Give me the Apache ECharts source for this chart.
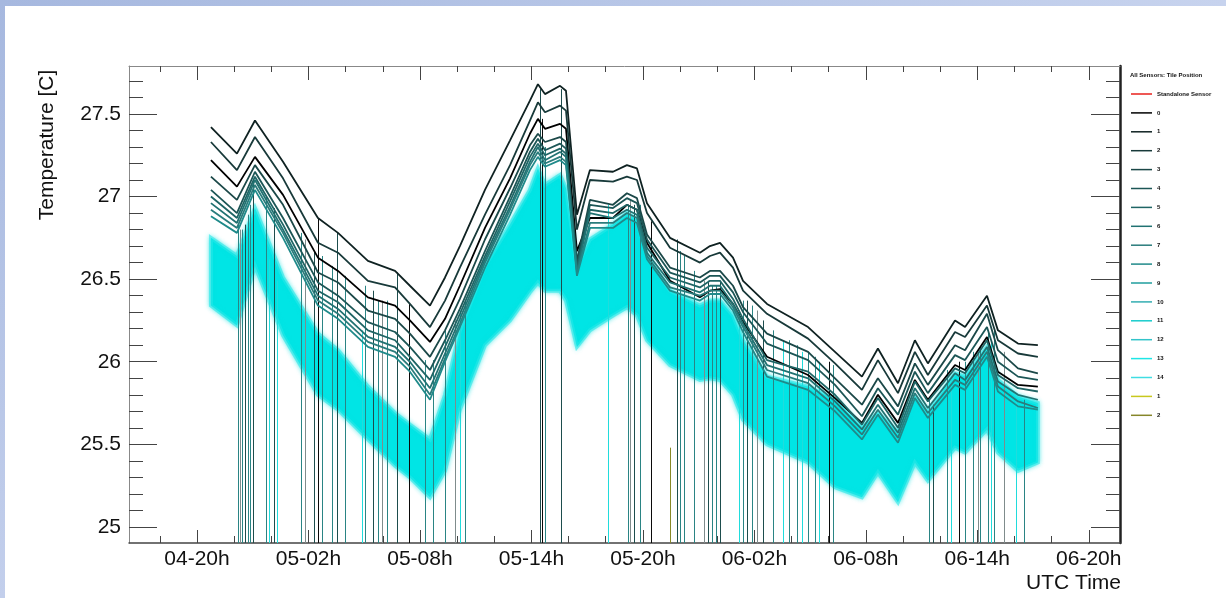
<!DOCTYPE html>
<html><head><meta charset="utf-8">
<script src="https://cdn.jsdelivr.net/npm/echarts@6/dist/echarts.min.js"></script>
<style>html,body{margin:0;padding:0;background:#fff}#c{width:1226px;height:598px}</style>
</head><body><div id="c"></div><script>
// ---- time grid (hours since day 04 00h) ----
const hours = [20.75,22.15,23.12,24.63,26.51,27.59,29.20,30.66,31.46,32.54,33.35,34.15,35.50,36.85,37.92,38.35,38.73,39.54,39.86,40.45,41.15,42.39,43.14,43.68,44.22,45.46,47.07,47.61,48.15,48.85,49.39,50.68,52.89,54.34,55.79,56.65,57.73,58.64,59.34,60.80,61.34,62.52,63.11,64.19,65.26];
// ---- sensor temperatures [C] ----
const sensor0 = [27.22,27.06,27.24,27.01,26.63,26.55,26.39,26.34,26.25,26.12,26.26,26.46,26.81,27.11,27.38,27.47,27.41,27.44,27.41,26.67,26.87,26.87,26.95,26.92,26.72,26.49,26.39,26.43,26.44,26.35,26.24,26.03,25.92,25.78,25.63,25.80,25.63,25.89,25.77,25.98,25.95,26.15,25.94,25.86,25.85];
const sensor1 = [27.42,27.26,27.46,27.21,26.87,26.78,26.61,26.55,26.46,26.34,26.51,26.70,27.04,27.34,27.58,27.68,27.62,27.67,27.64,26.89,27.16,27.15,27.19,27.17,26.96,26.75,26.66,26.70,26.72,26.63,26.49,26.35,26.21,26.06,25.91,26.08,25.87,26.13,25.99,26.25,26.21,26.40,26.19,26.11,26.10];
const sensor2 = [27.33,27.16,27.36,27.11,26.72,26.66,26.49,26.45,26.35,26.21,26.37,26.57,26.89,27.19,27.46,27.57,27.51,27.55,27.52,26.80,27.10,27.09,27.12,27.10,26.90,26.69,26.60,26.64,26.66,26.57,26.43,26.29,26.14,25.99,25.83,26.01,25.81,26.06,25.92,26.18,26.15,26.34,26.13,26.05,26.03];
const sensor3 = [27.12,26.98,27.19,26.95,26.54,26.48,26.31,26.26,26.17,26.03,26.19,26.38,26.74,27.05,27.31,27.38,27.33,27.36,27.33,26.61,26.98,26.95,27.02,26.99,26.77,26.57,26.51,26.55,26.55,26.46,26.33,26.17,26.06,25.90,25.74,25.90,25.73,25.99,25.86,26.10,26.07,26.29,26.07,25.96,25.93];
const sensor4 = [27.04,26.90,27.15,26.87,26.48,26.40,26.24,26.18,26.09,25.95,26.13,26.32,26.67,27.00,27.27,27.35,27.28,27.32,27.29,26.58,26.95,26.93,26.99,26.96,26.74,26.54,26.48,26.52,26.52,26.42,26.30,26.11,26.01,25.86,25.67,25.84,25.68,25.94,25.81,26.04,26.01,26.21,26.00,25.91,25.89];
const sensor5 = [27.00,26.87,27.12,26.83,26.43,26.36,26.19,26.13,26.03,25.89,26.09,26.29,26.64,26.97,27.24,27.32,27.25,27.29,27.26,26.57,26.92,26.90,26.95,26.92,26.69,26.51,26.45,26.49,26.49,26.38,26.26,26.01,25.94,25.80,25.62,25.78,25.60,25.88,25.76,25.96,25.93,26.13,25.92,25.84,25.82];
const sensor6 = [26.96,26.84,27.10,26.80,26.40,26.32,26.15,26.09,26.00,25.84,26.05,26.26,26.62,26.94,27.21,27.30,27.22,27.27,27.24,26.55,26.90,26.87,26.92,26.89,26.66,26.48,26.42,26.46,26.46,26.35,26.23,25.98,25.90,25.76,25.59,25.74,25.57,25.84,25.72,25.93,25.89,26.09,25.88,25.80,25.77];
const sensor7 = [26.92,26.81,27.07,26.78,26.37,26.29,26.12,26.06,25.97,25.80,26.02,26.23,26.60,26.92,27.19,27.27,27.20,27.24,27.21,26.54,26.84,26.84,26.90,26.87,26.64,26.45,26.40,26.43,26.43,26.33,26.21,25.95,25.87,25.73,25.56,25.71,25.54,25.81,25.69,25.89,25.86,26.06,25.85,25.76,25.72];
const sensor8 = [26.88,26.78,27.04,26.75,26.34,26.26,26.09,26.03,25.94,25.77,26.00,26.21,26.57,26.89,27.16,27.24,27.18,27.22,27.19,26.52,26.81,26.81,26.87,26.84,26.62,26.43,26.37,26.41,26.41,26.31,26.18,25.91,25.83,25.70,25.53,25.68,25.51,25.78,25.66,25.86,25.83,26.03,25.82,25.73,25.71];
// noisy cyan sensors (10-14): band upper / lower envelope
const cyanUpper = [26.75,26.64,26.93,26.51,26.17,26.07,25.85,25.69,25.62,25.53,25.80,26.19,26.58,26.83,27.04,27.17,27.07,27.13,27.05,26.58,26.74,26.83,26.90,26.86,26.64,26.43,26.34,26.37,26.37,26.28,26.13,25.91,25.85,25.77,25.60,25.69,25.57,25.79,25.69,25.93,25.91,26.09,25.89,25.79,25.75];
const cyanLower = [26.34,26.22,26.58,26.16,25.80,25.71,25.53,25.37,25.30,25.18,25.34,25.71,26.10,26.25,26.42,26.48,26.43,26.43,26.37,26.09,26.19,26.28,26.33,26.28,26.13,25.98,25.89,25.90,25.89,25.80,25.65,25.50,25.39,25.24,25.18,25.33,25.15,25.39,25.28,25.48,25.45,25.59,25.45,25.34,25.39];
// read-out drop-outs: [hour, temperature where the drop starts, colour index]
const dropouts = [[22.21,26.83,2],[22.31,26.80,3],[22.42,26.80,2],[22.58,26.83,1],[22.74,26.89,2],[22.85,26.95,2],[23.01,27.10,1],[23.71,27.00,2],[23.88,26.62,4],[24.14,26.93,1],[24.31,26.49,4],[25.60,26.78,2],[25.81,26.74,3],[26.30,26.67,1],[26.51,26.87,0],[26.73,26.64,2],[27.27,26.58,2],[27.54,26.78,1],[27.97,26.52,2],[28.88,26.19,4],[29.04,26.46,2],[29.47,26.43,1],[29.74,26.37,2],[29.96,26.37,3],[30.23,26.37,2],[30.76,26.54,1],[31.41,26.35,0],[32.27,26.01,2],[32.70,26.01,2],[33.35,26.19,2],[33.89,26.25,3],[34.15,26.31,4],[34.42,26.37,2],[38.46,27.65,1],[38.57,27.47,0],[38.73,27.30,2],[39.59,27.65,1],[42.12,26.95,4],[43.20,26.95,2],[43.30,26.98,3],[43.52,26.95,1],[43.84,26.95,2],[44.43,26.85,0],[45.46,25.48,5],[45.83,26.74,1],[46.00,26.67,2],[46.21,26.64,2],[46.75,26.55,2],[47.29,26.49,3],[47.50,26.49,1],[47.72,26.46,2],[47.93,26.46,2],[48.15,26.49,1],[49.17,26.31,4],[49.39,26.37,2],[49.60,26.37,1],[49.87,26.34,2],[50.14,26.31,3],[50.46,26.25,1],[51.00,26.19,2],[51.54,26.13,4],[51.86,26.13,2],[52.29,26.10,2],[52.56,26.06,4],[52.89,26.06,2],[53.26,26.03,2],[53.48,26.00,4],[54.02,26.00,0],[54.23,25.98,2],[59.40,25.77,2],[59.61,25.74,1],[60.37,25.95,2],[60.58,25.89,4],[61.01,26.00,0],[61.34,26.00,2],[61.77,26.06,2],[62.03,26.06,3],[62.14,26.09,2],[62.57,26.19,2],[62.73,26.13,4],[62.90,26.19,2],[63.43,26.06,3],[64.08,25.77,4],[64.51,25.77,2]];
// ---- axes ----
const xTickValues = [20,26,32,38,44,50,56,62,68];
const xTickLabels = ['04-20h','05-02h','05-08h','05-14h','05-20h','06-02h','06-08h','06-14h','06-20h'];
const xMinorValues = [18,22,24,28,30,34,36,40,42,46,48,52,54,58,60,64,66];
const yTickValues = [25,25.5,26,26.5,27,27.5];
const yTickLabels = ['25','25.5','26','26.5','27','27.5'];
const yMinorValues = [25.1,25.2,25.3,25.4,25.6,25.7,25.8,25.9,26.1,26.2,26.3,26.4,26.6,26.7,26.8,26.9,27.1,27.2,27.3,27.4,27.6,27.7];
const xMin = 16.34, xMax = 69.68, yMin = 24.903, yMax = 27.79;

const legendNames = ['Standalone Sensor','0','1','2','3','4','5','6','7','8','9','10','11','12','13','14','1 ','2 '];
const legendColors = ['#e8201c','#000000','#0f2222','#183a3a','#1b4848','#1c5656','#1f6565','#217272','#2a7c7c','#1f8a8a','#1f9e9e','#33aeb2','#18cccc','#33c4ca','#1ee6e6','#40dde3','#c8c81e','#86862a'];
const lineData = {'0':sensor0,'1':sensor1,'2':sensor2,'3':sensor3,'4':sensor4,'5':sensor5,'6':sensor6,'7':sensor7,'8':sensor8};
const spikeColors = ['#0a0a0a','#1d4d4d','#2a8484','#7f8c8c','#20dcdc','#8a8a28'];

const font = 'Liberation Sans, Arial, Helvetica, sans-serif';
const chart = echarts.init(document.getElementById('c'), null, {renderer:'canvas'});

function xAxisDef(pos, values, len, labels, line){
  return {type:'value', min:xMin, max:xMax, position:pos,
    axisLine:{show:line!=null, lineStyle:line||{}},
    axisTick:{show:true, inside:true, length:len, customValues:values, lineStyle:{color:'#444', width:1}},
    axisLabel:labels?{show:true, customValues:values, margin:6, fontSize:21, color:'#111', fontFamily:font,
      formatter:v=>{const i=xTickValues.indexOf(Math.round(v)); return i>=0?xTickLabels[i]:'';}}:{show:false},
    splitLine:{show:false}};
}
function yAxisDef(pos, values, len, labels, line){
  return {type:'value', min:yMin, max:yMax, position:pos,
    axisLine:{show:line!=null, lineStyle:line||{}},
    axisTick:{show:true, inside:true, length:len, customValues:values, lineStyle:{color:'#444', width:1}},
    axisLabel:labels?{show:true, customValues:values, margin:8, fontSize:21, color:'#111', fontFamily:font,
      formatter:v=>{const i=yTickValues.findIndex(t=>Math.abs(t-v)<1e-6); return i>=0?yTickLabels[i]:'';}}:{show:false},
    splitLine:{show:false}};
}

const series = [];
// cyan noisy band
series.push({name:'13', type:'custom', z:2, silent:true, animation:false,
  itemStyle:{color:'#1ee6e6'},
  data: hours.map((h,i)=>[h, cyanUpper[i], cyanLower[i]]),
  renderItem:(params, api)=>{
    if(params.dataIndex!==0) return null;
    const up = hours.map((h,i)=>api.coord([h, cyanUpper[i]]));
    const lo = hours.map((h,i)=>api.coord([h, cyanLower[i]])).reverse();
    return {type:'polygon', shape:{points:up.concat(lo)},
      style:{fill:'#00e5e5', stroke:'rgba(40,232,232,0.6)', lineWidth:4, shadowBlur:5, shadowColor:'rgba(0,225,225,0.7)'}};
  }});
// drop-outs
series.push({name:'dropouts', type:'custom', z:3, silent:true, animation:false, clip:true,
  data: dropouts,
  renderItem:(params, api)=>{
    const p1 = api.coord([api.value(0), api.value(1)]);
    const p2 = api.coord([api.value(0), yMin]);
    const x = Math.round(p1[0])+0.5;
    return {type:'line', shape:{x1:x,y1:p1[1],x2:x,y2:p2[1]}, style:{stroke:spikeColors[api.value(2)], lineWidth:1}};
  }});
legendNames.forEach((n,i)=>{
  if(n==='13') return;
  const d = lineData[n];
  series.push({name:n, type:'line', z:4, animation:false, showSymbol:false, symbol:'none',
    color:legendColors[i], lineStyle:{width:1.8, color:legendColors[i]},
    data: d ? hours.map((h,k)=>[h, d[k]]) : []});
});

chart.setOption({
  backgroundColor:'#ffffff',
  animation:false,
  grid:{left:129, right:106, top:66, bottom:55, containLabel:false},
  xAxis:[
    xAxisDef('bottom', xTickValues, 13, true, {color:'#444', width:1.5}),
    xAxisDef('bottom', xMinorValues, 7, false, null),
    xAxisDef('top', xTickValues, 14, false, {color:'#888', width:1}),
    xAxisDef('top', xMinorValues, 6, false, null)
  ],
  yAxis:[
    yAxisDef('left', yTickValues, 28, true, {color:'#888', width:1}),
    yAxisDef('left', yMinorValues, 14, false, null),
    yAxisDef('right', yTickValues, 29, false, {color:'#222', width:2.5}),
    yAxisDef('right', yMinorValues, 14, false, null)
  ],
  legend:{orient:'vertical', left:1131, top:90, padding:0, icon:'rect', itemWidth:21, itemHeight:1.5, itemGap:10.9,
    data:legendNames.map((n,i)=>({name:n, itemStyle:{color:legendColors[i]}})),
    textStyle:{fontSize:6, fontWeight:'bold', color:'#111', fontFamily:font, lineHeight:8},
    selectedMode:false},
  graphic:[
    {type:'rect', z:-10, shape:{x:0,y:0,width:1226,height:6}, style:{fill:new echarts.graphic.LinearGradient(0,0,1,0,[{offset:0,color:'#a6b8df'},{offset:1,color:'#c7d3ee'}])}},
    {type:'rect', z:-10, shape:{x:0,y:0,width:5,height:598}, style:{fill:new echarts.graphic.LinearGradient(0,0,0,1,[{offset:0,color:'#a6b8df'},{offset:1,color:'#c3cfec'}])}},
    {type:'text', left:1130, top:72, style:{text:'All Sensors: Tile Position', fontSize:6, fontWeight:'bold', fill:'#111', fontFamily:font}},
    {type:'text', x:47, y:145, rotation:Math.PI/2, style:{text:'Temperature [C]', fontSize:21, fill:'#111', fontFamily:font, align:'center', verticalAlign:'middle'}},
    {type:'text', x:1121, y:583, style:{text:'UTC Time', fontSize:21, fill:'#111', fontFamily:font, align:'right', verticalAlign:'middle'}}
  ],
  series:series
});
</script></body></html>
